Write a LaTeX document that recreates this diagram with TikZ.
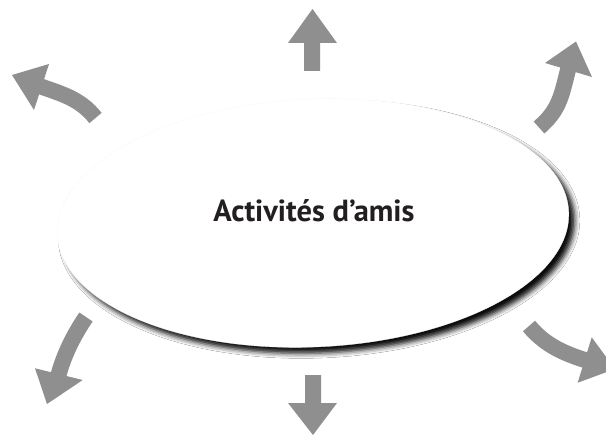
\documentclass[tikz,border=0pt]{standalone}
\usepackage{fontspec}
\setmainfont{PT Sans}
\usetikzlibrary{shapes.geometric,shadows.blur}
\definecolor{arrowgray}{RGB}{143,143,143}
\definecolor{textdark}{RGB}{35,31,32}
\begin{document}
\begin{tikzpicture}[x=1pt,y=-1pt,
  shaft/.style={draw=arrowgray, line width=16pt, line cap=butt},
  head/.style={fill=arrowgray},
  oval/.style={ellipse, fill=white, draw=black!3, line width=0.3pt,
    minimum width=512pt, minimum height=248pt, inner sep=0pt,
    blur shadow={shadow xshift=6pt, shadow yshift=-6pt, shadow blur radius=5pt, shadow opacity=95}},
  label/.style={font=\bfseries\fontsize{30.5}{34}\selectfont, text=textdark, anchor=base}]
\useasboundingbox (0,0) rectangle (606,436);
\clip (0,0) rectangle (606,436);
\fill[white] (0,0) rectangle (606,436);

% central oval
\node[oval, rotate=2.5] (ring) at (313,223) {};
\node[label] (title) at (314,222) {Activités d’amis};

% straight arrows
\fill[head] (304,71) -- (304,43) -- (288,43) -- (312.5,9) -- (337,43) -- (320,43) -- (320,71) -- cycle;
\fill[head] (305,375) -- (321,375) -- (321,403) -- (337,403) -- (313,435) -- (288,403) -- (305,403) -- cycle;

% top-left curved arrow
\coordinate (tls) at (95.5,118);
\coordinate (tle) at (38,85.5);
\draw[shaft] (tls) .. controls (80,98.5) and (62,94) .. (tle);
\fill[head] (49,64) -- (12,75) -- (34,110) -- cycle;

% top-right curved arrow
\coordinate (trs) at (539,127.5);
\coordinate (tre) at (569,66);
\draw[shaft] (trs) .. controls (561,109) and (562,92) .. (tre);
\fill[head] (545,63) -- (576,41.5) -- (592,77) -- cycle;

% bottom-right curved arrow
\coordinate (brs) at (529,326);
\coordinate (bre) at (588,361);
\draw[shaft] (brs) .. controls (545.6,346) and (565.6,354) .. (bre);
\fill[head] (591.7,337.3) -- (615,369) -- (577.7,382.7) -- cycle;

% bottom-left curved arrow
\coordinate (bls) at (86,317);
\coordinate (ble) at (58,377);
\draw[shaft] (bls) .. controls (74.7,333.5) and (63.6,354.6) .. (ble);
\fill[head] (35,368.3) -- (47,404) -- (82.7,380) -- cycle;
\end{tikzpicture}
\end{document}
